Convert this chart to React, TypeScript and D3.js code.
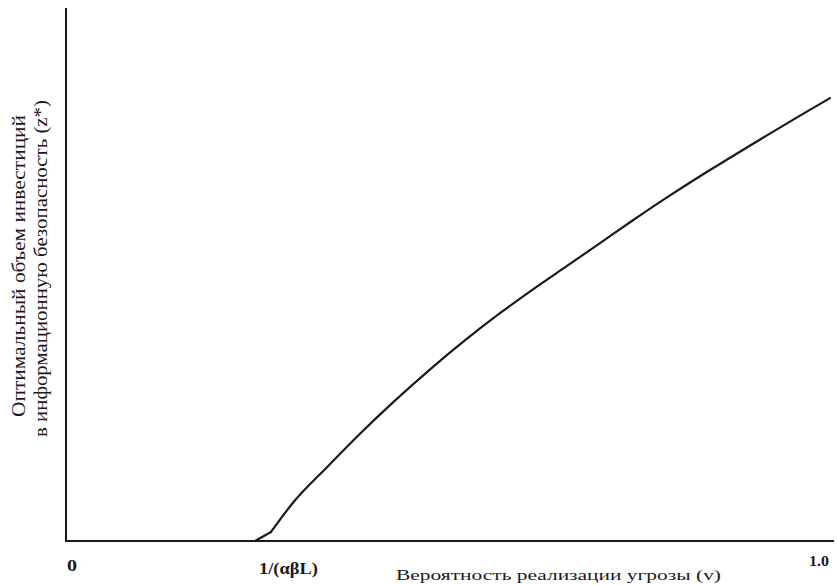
import React from "react";
import * as d3 from "d3";

// Probability of threat realisation (v), fraction of 1.0
const vValues = [0.2474, 0.2683, 0.2971, 0.3416, 0.3848, 0.428, 0.4804, 0.5249, 0.568, 0.6113, 0.6558, 0.699, 0.7421, 0.7866, 0.8298, 0.873, 0.9175, 0.9607, 1.0];
// Optimal investment z* (relative units, 0..100 = axis height)
const zValues = [0, 1.7, 7.2, 13.9, 20.2, 26.1, 32.8, 38.1, 42.9, 47.4, 51.8, 56.1, 60.4, 64.7, 68.7, 72.5, 76.4, 80.1, 83.4];

const threshold = 0.2474;
const tickLabels = ["0", "1/(αβL)", "1.0"];
const xTitle = "Вероятность реализации угрозы (v)";
const yTitle = ["Оптимальный объем инвестиций", "в информационную безопасность (z*)"];

const W = 838;
const H = 585;

export default function App() {
  const x = d3.scaleLinear().domain([0, 1]).range([66, 830]);
  const y = d3.scaleLinear().domain([0, 100]).range([541, 10]);
  const pts = vValues.map((v, i) => [v, zValues[i]] as [number, number]);
  const lineLin = d3
    .line<[number, number]>()
    .x((d) => x(d[0]))
    .y((d) => y(d[1]))
    .curve(d3.curveLinear);
  const lineSmooth = d3
    .line<[number, number]>()
    .x((d) => x(d[0]))
    .y((d) => y(d[1]))
    .curve(d3.curveMonotoneX);

  const font = "'Liberation Serif', 'Times New Roman', serif";
  const ink = "#1a1a1a";
  return (
    <svg
      width={W}
      height={H}
      style={{ position: "absolute", left: 0, top: 0, background: "#fff" }}
      fontFamily={font}
    >
      <rect width={W} height={H} fill="#fff" />
      {/* axes */}
      <line x1={x(0)} x2={x(0)} y1={8} y2={y(0)} stroke={ink} strokeWidth={2} />
      <line x1={x(0) - 1} x2={834} y1={y(0)} y2={y(0)} stroke={ink} strokeWidth={2} />
      {/* curve: sharp start at the threshold, smooth afterwards */}
      <path d={lineLin(pts.slice(0, 2)) || ""} fill="none" stroke={ink} strokeWidth={2.2} strokeLinecap="round" />
      <path d={lineSmooth(pts.slice(1)) || ""} fill="none" stroke={ink} strokeWidth={2.2} strokeLinejoin="round" strokeLinecap="round" />
      {/* tick labels */}
      <text x={x(0) + 1} y={571} fontSize={17} fontWeight="bold" textAnchor="start" fill={ink}
        textLength={10} lengthAdjust="spacingAndGlyphs">
        {tickLabels[0]}
      </text>
      <text x={x(threshold) + 4} y={574} fontSize={16} fontWeight="bold" textAnchor="start" fill={ink}
        textLength={59} lengthAdjust="spacingAndGlyphs">
        {tickLabels[1]}
      </text>
      <text x={809} y={566} fontSize={15} fontWeight="bold" textAnchor="start" fill={ink}
        textLength={20} lengthAdjust="spacingAndGlyphs">
        {tickLabels[2]}
      </text>
      {/* x title */}
      <text x={396} y={580} fontSize={15} textAnchor="start" fill={ink}
        textLength={325} lengthAdjust="spacingAndGlyphs">
        {xTitle}
      </text>
      {/* y title */}
      <text transform="translate(25,417) rotate(-90)" fontSize={19} textAnchor="start" fill={ink}
        textLength={302} lengthAdjust="spacingAndGlyphs">
        {yTitle[0]}
      </text>
      <text transform="translate(47,437) rotate(-90)" fontSize={19} textAnchor="start" fill={ink}
        textLength={337} lengthAdjust="spacingAndGlyphs">
        {yTitle[1]}
      </text>
    </svg>
  );
}
